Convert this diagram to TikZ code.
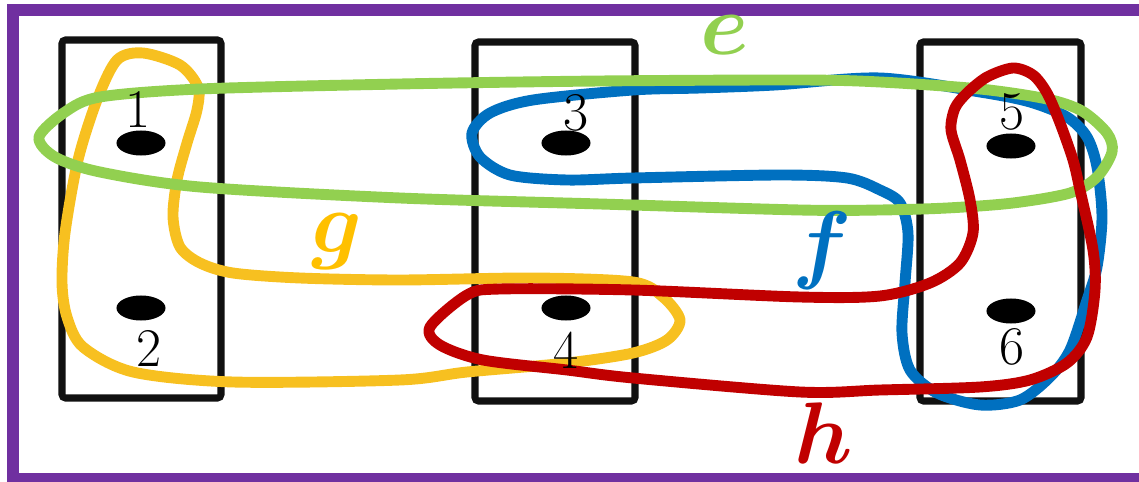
\documentclass[tikz,border=0pt]{standalone}
\usepackage{amsmath,amssymb}
\usepackage{tikz}
\usetikzlibrary{shapes.geometric,positioning}

\definecolor{hpurple}{RGB}{112,48,160}
\definecolor{hgreen}{RGB}{146,208,80}
\definecolor{hblue}{RGB}{0,112,192}
\definecolor{hred}{RGB}{192,0,0}
\definecolor{hyellow}{RGB}{247,192,32}
\definecolor{hgold}{RGB}{255,192,0}
\definecolor{hblack}{RGB}{17,17,17}

\tikzset{
  vdot/.style={ellipse, fill=black, inner sep=0pt, minimum width=0.49cm, minimum height=0.25cm},
  vlabel/.style={inner sep=0pt, font=\fontsize{15.5}{18}\selectfont},
  partbox/.style={draw=hblack, line width=2pt, rounded corners=1pt},
  hedge/.style={line width=3.1pt, line join=round},
  elabel/.style={inner sep=0pt, anchor=base, font=\fontsize{23}{27}\selectfont\boldmath}
}

\begin{document}
\begin{tikzpicture}[x=0.01cm, y=-0.01cm]
            \useasboundingbox (0,0) rectangle (1139,482);
            \clip (0,0) rectangle (1139,482);
            % outer frame
            \draw[hpurple, line width=3.4pt] (13,10) rectangle (1160,479);

            % parts
            \draw[partbox] (62,40) rectangle (221,398);
            \draw[partbox] (475,42) rectangle (635,401);
            \draw[partbox] (920,42) rectangle (1081,401);

            % hyperedge g
            \draw[hedge, hyellow] plot[smooth cycle] coordinates {
                (143,53) (180,65) (198,87) (197,110) (187,143) (177,180) (173,217)
                (180,247) (200,263) (233,273) (300,278) (400,280) (533,278) (633,282)
                (663,297) (680,320) (667,340) (633,353) (567,363) (467,372) (400,380)
                (233,382) (133,372) (83,347) (67,317) (62,283) (65,233) (78,160)
                (97,100) (117,60)};

            % hyperedge f
            \draw[hedge, hblue] plot[smooth cycle] coordinates {
                (472,133) (490,113) (533,100) (633,90) (700,88) (775,85) (880,78)
                (980,92) (1030,102) (1067,117) (1087,137) (1097,167) (1102,217)
                (1097,267) (1087,300) (1070,350) (1050,377) (1020,400) (980,405)
                (937,393) (910,370) (902,333) (905,283) (908,233) (900,203) (880,190)
                (847,178) (780,175) (633,178) (567,180) (510,175) (480,157)};

            % hyperedge e
            \draw[hedge, hgreen] plot[smooth cycle] coordinates {
                (39,137) (65,112) (100,97) (200,89) (400,84) (600,81) (800,80)
                (880,82) (980,89) (1047,99) (1082,111) (1107,133) (1112,152)
                (1097,177) (1070,193) (1013,203) (947,208) (880,210) (800,210)
                (600,204) (400,198) (200,187) (100,172) (55,157)};

            % hyperedge h
            \draw[hedge, hred] plot[smooth cycle] coordinates {
                (430,327) (467,295) (500,289) (633,290) (800,297) (880,296) (930,283)
                (960,263) (973,233) (970,200) (960,160) (951,130) (955,108) (967,93)
                (987,77) (1013,68) (1033,75) (1047,93) (1060,123) (1073,160) (1080,190)
                (1093,250) (1095,290) (1087,337) (1067,363) (1030,380) (980,387)
                (880,390) (800,392) (633,378) (567,370) (483,360) (440,345)};

            % vertices
            \node[vdot] (v1) at (141,143) {};
            \node[vdot] (v2) at (141,308) {};
            \node[vdot] (v3) at (566,143) {};
            \node[vdot] (v4) at (566,308) {};
            \node[vdot] (v5) at (1011,146) {};
            \node[vdot] (v6) at (1011,311) {};

            \node[vlabel] (n1) at (138,109) {1};
            \node[vlabel] (n2) at (149,348) {2};
            \node[vlabel] (n3) at (576,113) {3};
            \node[vlabel] (n4) at (566,350) {4};
            \node[vlabel] (n5) at (1012,112) {5};
            \node[vlabel] (n6) at (1012,347) {6};

            % edge names
            \node[elabel, text=hgreen] (le) at (725,55) {$e$};
            \node[elabel, text=hblue] (lf) at (822,273) {$f$};
            \node[elabel, text=hgold] (lg) at (337,252) {$g$};
            \node[elabel, text=hred] (lh) at (824,463) {$h$};
        \end{tikzpicture}
\end{document}
